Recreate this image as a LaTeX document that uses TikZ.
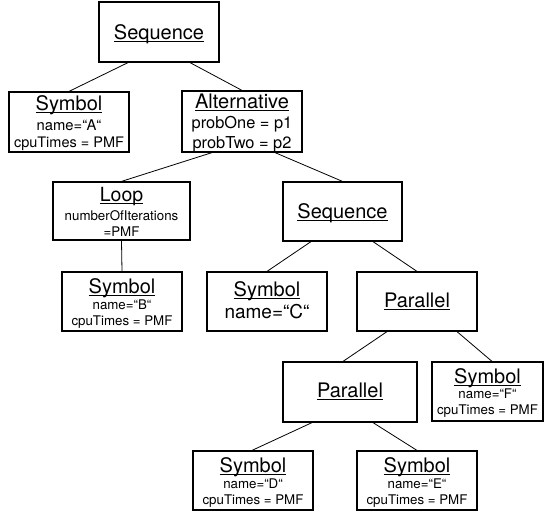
\documentclass[tikz,border=0pt]{standalone}
\usepackage{fontspec}
\setmainfont{TeX Gyre Heros}
\newcommand\ulx[1]{\setbox0\hbox{#1}\rlap{\rule[-3.4pt]{\wd0}{1.1pt}}\box0}
\newcommand\fs[1]{\fontsize{#1}{#1}\selectfont}
\begin{document}
\begin{tikzpicture}[x=1pt,y=-1pt,
  box/.style={draw,line width=1.2pt,inner sep=0pt},
  edge/.style={line width=0.8pt},
  lbl/.style={anchor=base,inner sep=0pt},
  ttl/.style={lbl,font=\fs{20}},
  att/.style={lbl,font=\fs{13.3}}]
\useasboundingbox (0,0) rectangle (544,512);
% boxes
\node[box,minimum width=120pt,minimum height=60pt] (seq) at (159,32) {};
\node[box,minimum width=120pt,minimum height=60pt] (syma) at (69,122) {};
\node[box,minimum width=120pt,minimum height=61pt] (alt) at (242,121.5) {};
\node[box,minimum width=137pt,minimum height=58pt] (loop) at (121.5,211) {};
\node[box,minimum width=119pt,minimum height=59pt] (seq2) at (342.5,211.5) {};
\node[box,minimum width=120pt,minimum height=59pt] (symb) at (122,301.5) {};
\node[box,minimum width=120pt,minimum height=59pt] (symc) at (267,301.5) {};
\node[box,minimum width=120pt,minimum height=59pt] (par1) at (417,301.5) {};
\node[box,minimum width=134pt,minimum height=60pt] (par2) at (350,392) {};
\node[box,minimum width=111pt,minimum height=59pt] (symf) at (487.5,391.5) {};
\node[box,minimum width=120pt,minimum height=59pt] (symd) at (253,480.5) {};
\node[box,minimum width=120pt,minimum height=59pt] (syme) at (417,480.5) {};
% texts
\node[ttl] (seqT) at (159,39) {\ulx{Sequence}};
\node[ttl] (symaT) at (69,110) {\ulx{Symbol}};
\node[lbl,font=\fs{14.8}] (symaN) at (69,130.5) {name=“A“};
\node[lbl,font=\fs{14.5}] (symaC) at (69,147) {cpuTimes = PMF};
\node[ttl] (altT) at (242,108) {\ulx{Alternative}};
\node[lbl,font=\fs{16.4}] (altA) at (242,128) {probOne = p1};
\node[lbl,font=\fs{16.4}] (altB) at (242,148.5) {probTwo = p2};
\node[lbl,font=\fs{19.5}] (loopT) at (121.5,201) {\ulx{Loop}};
\node[att] (loopA) at (121.5,220) {numberOfIterations};
\node[att] (loopB) at (121.5,236) {=PMF};
\node[ttl] (seq2T) at (342.5,218) {\ulx{Sequence}};
\node[ttl] (symbT) at (122,293) {\ulx{Symbol}};
\node[att] (symbN) at (122,309) {name=“B“};
\node[att] (symbC) at (122,325) {cpuTimes = PMF};
\node[ttl] (symcT) at (267,296) {\ulx{Symbol}};
\node[lbl,font=\fs{19}] (symcN) at (267,318) {name=“C“};
\node[ttl] (par1T) at (417,307) {\ulx{Parallel}};
\node[ttl] (par2T) at (350,397) {\ulx{Parallel}};
\node[ttl] (symfT) at (487.5,383) {\ulx{Symbol}};
\node[att] (symfN) at (487.5,398) {name=“F“};
\node[att] (symfC) at (487.5,414) {cpuTimes = PMF};
\node[ttl] (symdT) at (253,472) {\ulx{Symbol}};
\node[att] (symdN) at (253,488) {name=“D“};
\node[att] (symdC) at (253,504) {cpuTimes = PMF};
\node[ttl] (symeT) at (417,472) {\ulx{Symbol}};
\node[att] (symeN) at (417,488) {name=“E“};
\node[att] (symeC) at (417,504) {cpuTimes = PMF};
% connectors
\draw[edge] ([xshift=-31pt]seq.south) -- (syma.north);
\draw[edge] ([xshift=31pt]seq.south) -- (alt.north);
\draw[edge] ([xshift=-30pt]alt.south) -- (loop.north);
\draw[edge] ([xshift=33pt]alt.south) -- (seq2.north);
\draw[edge] (loop.south) -- (symb.north);
\draw[edge] ([xshift=-31.5pt]seq2.south) -- (symc.north);
\draw[edge] ([xshift=30.5pt]seq2.south) -- (par1.north);
\draw[edge] ([xshift=-30pt]par1.south) -- ([xshift=-7pt]par2.north);
\draw[edge] ([xshift=40pt]par1.south) -- ([xshift=4.5pt]symf.north);
\draw[edge] ([xshift=-38pt]par2.south) -- ([xshift=-1pt]symd.north);
\draw[edge] ([xshift=23pt]par2.south) -- (syme.north);
\end{tikzpicture}
\end{document}
